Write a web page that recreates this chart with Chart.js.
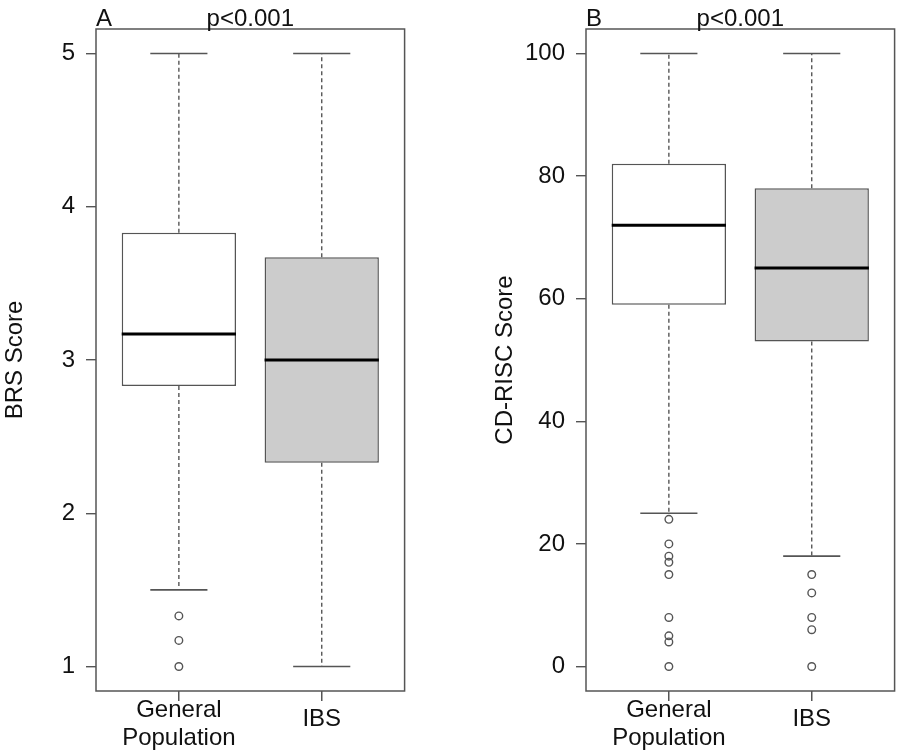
<!DOCTYPE html>
<html>
<head>
<meta charset="utf-8">
<title>BRS and CD-RISC scores</title>
<script src="https://cdn.jsdelivr.net/npm/chart.js@4.4.1/dist/chart.umd.min.js"></script>
<style>
  html, body { margin: 0; padding: 0; background: #fff; }
  body { width: 900px; height: 752px; position: relative; overflow: hidden; }
  .panel { position: absolute; top: 0; width: 410px; height: 752px; }
  #panel-a { left: 0; }
  #panel-b { left: 490px; }
</style>
</head>
<body>
<div class="panel" id="panel-a"><canvas id="brs-chart" width="410" height="752"></canvas></div>
<div class="panel" id="panel-b"><canvas id="cd-chart" width="410" height="752"></canvas></div>

<script>
// ── DATA ────────────────────────────────────────────────────
const categories = ['General Population', 'IBS'];
const categoryLines = [['General', 'Population'], ['IBS']];

// Panel A — BRS score
const brsMin      = [1.5, 1.0];
const brsQ1       = [2.83, 2.33];
const brsMedian   = [3.17, 3.0];
const brsQ3       = [3.83, 3.67];
const brsMax      = [5.0, 5.0];
const brsOutliers = [[1.33, 1.17, 1.0], []];
const brsTicks    = [1, 2, 3, 4, 5];

// Panel B — CD-RISC score
const cdMin      = [25, 18];
const cdQ1       = [59, 53];
const cdMedian   = [72, 65];
const cdQ3       = [82, 78];
const cdMax      = [100, 100];
const cdOutliers = [[24, 20, 18, 17, 15, 8, 5, 4, 0], [15, 12, 8, 6, 0]];
const cdTicks    = [0, 20, 40, 60, 80, 100];

// ── STYLE ───────────────────────────────────────────────────
const FONT = '"Liberation Sans", Arial, Helvetica, sans-serif';
const INK = '#111';
const LINE = '#555555';
const fills = ['#ffffff', '#cccccc'];
const BOX_HALF = 0.4;    // boxwex 0.8
const CAP_HALF = 0.2;    // staple half width

// ── HELPERS ─────────────────────────────────────────────────
function segments(pairs) {
  // pairs: [[x0,y0,x1,y1], ...] -> points with gaps between segments
  const pts = [];
  pairs.forEach(([x0, y0, x1, y1]) => {
    pts.push({ x: x0, y: y0 }, { x: x1, y: y1 }, { x: x1, y: null });
  });
  return pts;
}

const framePlugin = {
  id: 'frame',
  afterDraw(chart, args, opts) {
    const { ctx, chartArea: a } = chart;
    ctx.save();
    ctx.strokeStyle = LINE;
    ctx.lineWidth = 1.5;
    ctx.strokeRect(a.left, a.top, a.right - a.left, a.bottom - a.top);
    ctx.fillStyle = INK;
    ctx.font = '24px ' + FONT;
    ctx.textBaseline = 'alphabetic';
    ctx.textAlign = 'left';
    ctx.fillText(opts.letter, a.left, 26);
    ctx.textAlign = 'center';
    ctx.fillText(opts.note, (a.left + a.right) / 2, 26);
    ctx.restore();
  }
};

// single-line labels sit a little higher than the middle of the two-line block
function labelFont(c) {
  const lines = categoryLines[c.index];
  const single = lines && lines.length === 1;
  return { family: FONT, size: 24, lineHeight: single ? 1.6 : 1.2 };
}

function buildChart(canvasId, d) {
  const xs = d.min.map((_, i) => i + 1);

  const whiskers = [];
  const caps = [];
  const medians = [];
  xs.forEach((x, i) => {
    whiskers.push([x, d.q3[i], x, d.max[i]], [x, d.q1[i], x, d.min[i]]);
    caps.push([x - CAP_HALF, d.max[i], x + CAP_HALF, d.max[i]],
              [x - CAP_HALF, d.min[i], x + CAP_HALF, d.min[i]]);
    medians.push([x - BOX_HALF, d.median[i], x + BOX_HALF, d.median[i]]);
  });

  const outlierPts = [];
  d.outliers.forEach((list, i) => list.forEach(v => outlierPts.push({ x: xs[i], y: v })));

  const pad = (d.ticks[d.ticks.length - 1] - d.ticks[0]) * 0.04;

  return new Chart(document.getElementById(canvasId), {
    type: 'bar',
    data: {
      datasets: [
        {
          type: 'line', label: 'whisker',
          data: segments(whiskers),
          borderColor: LINE, borderWidth: 1.4, borderDash: [4, 3],
          pointRadius: 0, spanGaps: false, order: 3
        },
        {
          type: 'bar', label: 'box',
          data: xs.map((x, i) => ({ x, y: [d.q1[i], d.q3[i]] })),
          backgroundColor: fills, borderColor: LINE, borderWidth: 1.5,
          borderSkipped: false, barPercentage: 0.8, categoryPercentage: 1,
          order: 2
        },
        {
          type: 'line', label: 'cap',
          data: segments(caps),
          borderColor: LINE, borderWidth: 1.6,
          pointRadius: 0, spanGaps: false, order: 1
        },
        {
          type: 'line', label: 'median',
          data: segments(medians),
          borderColor: '#000', borderWidth: 3,
          pointRadius: 0, spanGaps: false, order: 0
        },
        {
          type: 'scatter', label: 'outlier',
          data: outlierPts,
          pointStyle: 'circle', pointRadius: 3.8,
          pointBackgroundColor: 'rgba(255,255,255,0)',
          pointBorderColor: LINE, pointBorderWidth: 1.4,
          showLine: false, order: 0
        }
      ]
    },
    options: {
      responsive: false,
      animation: false,
      events: [],
      layout: { padding: { top: 29, right: 4, bottom: 0, left: 0 } },
      plugins: {
        legend: { display: false },
        tooltip: { enabled: false },
        frame: { letter: d.letter, note: d.note }
      },
      scales: {
        x: {
          type: 'linear', min: 0.42, max: 2.58, offset: false,
          afterBuildTicks: s => { s.ticks = xs.map(v => ({ value: v })); },
          afterFit: s => { s.height = 61; },
          grid: { offset: false, display: true, drawOnChartArea: false, drawTicks: true, tickLength: 10, tickColor: LINE, tickWidth: 1.5, color: LINE, lineWidth: 1.5 },
          border: { display: false },
          ticks: {
            autoSkip: false, maxRotation: 0, padding: 9, crossAlign: 'center',
            color: INK,
            font: labelFont,
            callback: v => categoryLines[v - 1]
          }
        },
        y: {
          type: 'linear', min: d.ticks[0] - pad, max: d.ticks[d.ticks.length - 1] + pad,
          afterBuildTicks: s => { s.ticks = d.ticks.map(v => ({ value: v })); },
          afterFit: s => { s.width = 96; },
          grid: { drawOnChartArea: false, drawTicks: true, tickLength: 10, color: LINE, lineWidth: 1.4 },
          border: { display: false },
          ticks: { padding: 11, color: INK, font: { family: FONT, size: 24 } },
          title: {
            display: true, text: d.title, color: INK,
            font: { family: FONT, size: 24, lineHeight: 1.2 },
            padding: { top: 1, bottom: 0 }
          }
        }
      }
    },
    plugins: [framePlugin]
  });
}

buildChart('brs-chart', {
  min: brsMin, q1: brsQ1, median: brsMedian, q3: brsQ3, max: brsMax,
  outliers: brsOutliers, ticks: brsTicks,
  title: 'BRS Score', letter: 'A', note: 'p<0.001'
});

buildChart('cd-chart', {
  min: cdMin, q1: cdQ1, median: cdMedian, q3: cdQ3, max: cdMax,
  outliers: cdOutliers, ticks: cdTicks,
  title: 'CD-RISC Score', letter: 'B', note: 'p<0.001'
});
</script>
</body>
</html>
